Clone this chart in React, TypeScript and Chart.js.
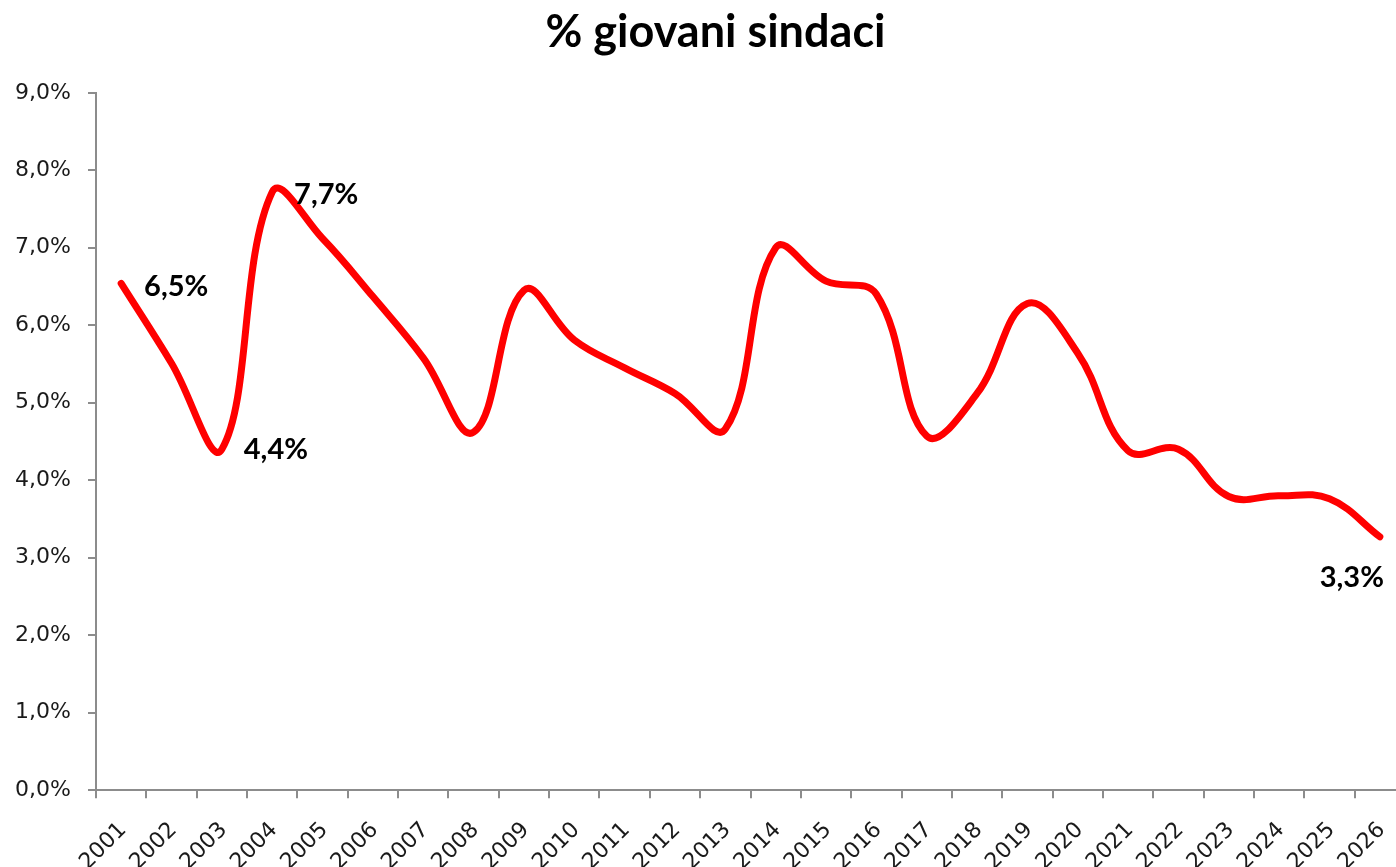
import React, { useEffect, useRef } from 'react';
import { Chart, registerables } from 'chart.js';

Chart.register(...registerables);

const chartTitle = '% giovani sindaci';

const years = [
  '2001', '2002', '2003', '2004', '2005', '2006', '2007', '2008', '2009',
  '2010', '2011', '2012', '2013', '2014', '2015', '2016', '2017', '2018',
  '2019', '2020', '2021', '2022', '2023', '2024', '2025', '2026',
];

const youngMayorsPct = [
  6.54, 5.51, 4.4, 7.72, 7.12, 6.37, 5.58, 4.62, 6.45,
  5.81, 5.45, 5.12, 4.66, 7.0, 6.57, 6.4, 4.57, 5.12,
  6.28, 5.64, 4.38, 4.4, 3.79, 3.8, 3.76, 3.27,
];

const labelledIndices = [0, 2, 3, 25];

const yMin = 0;
const yMax = 9;
const yStep = 1;

const fmt = (v: number) => v.toFixed(1).replace('.', ',') + '%';

const labelOffsets: Record<number, [number, number]> = {
  0: [55, 3],
  2: [54, 0],
  3: [54, 3],
  25: [-28, 41],
};

const pointLabelPlugin = {
  id: 'pointLabels',
  afterDatasetsDraw(chart: any) {
    const meta = chart.getDatasetMeta(0);
    const ctx = chart.ctx;
    ctx.save();
    ctx.font = 'bold 29px Lato';
    ctx.fillStyle = '#000000';
    ctx.textAlign = 'center';
    ctx.textBaseline = 'middle';
    labelledIndices.forEach((i) => {
      const el = meta.data[i];
      if (!el) return;
      const [dx, dy] = labelOffsets[i] || [0, 0];
      ctx.fillText(fmt(youngMayorsPct[i]), el.x + dx, el.y + dy);
    });
    ctx.restore();
  },
};

const titlePlugin = {
  id: 'excelTitle',
  afterDraw(chart: any) {
    const ctx = chart.ctx;
    ctx.save();
    ctx.font = 'bold 45px Lato';
    ctx.fillStyle = '#000000';
    ctx.textAlign = 'center';
    ctx.textBaseline = 'middle';
    ctx.fillText(chartTitle, 715.5, 32);
    ctx.restore();
  },
};

export default function App() {
  const canvasRef = useRef<HTMLCanvasElement | null>(null);

  useEffect(() => {
    const canvas = canvasRef.current;
    if (!canvas) return;
    const axisColor = '#8c8c8c';
    const chart = new Chart(canvas, {
      type: 'line',
      data: {
        labels: years,
        datasets: [
          {
            data: youngMayorsPct,
            borderColor: '#ff0000',
            backgroundColor: '#ff0000',
            borderWidth: 7,
            pointRadius: 0,
            pointHoverRadius: 0,
            tension: 0.4,
            fill: false,
            borderCapStyle: 'round',
            borderJoinStyle: 'round',
          },
        ],
      },
      options: {
        animation: false,
        responsive: false,
        devicePixelRatio: 1,
        layout: { padding: { left: 0, right: 0, top: 92.8, bottom: 0 } },
        plugins: {
          legend: { display: false },
          tooltip: { enabled: false },
          title: { display: false },
        },
        scales: {
          x: {
            type: 'category',
            offset: true,
            grid: {
              offset: true,
              drawOnChartArea: false,
              drawTicks: true,
              tickLength: 8,
              color: axisColor,
              lineWidth: 2,
            },
            border: { display: true, color: axisColor, width: 2 },
            ticks: {
              autoSkip: false,
              minRotation: 45,
              maxRotation: 45,
              padding: 19,
              labelOffset: 2,
              color: '#1a1a1a',
              font: { family: 'DejaVu Sans', size: 22 },
            },
            afterFit: (s: any) => {
              s.height = 76.8;
              s.paddingLeft = 0;
              s.paddingRight = 0;
            },
          },
          y: {
            min: yMin,
            max: yMax,
            ticks: {
              stepSize: yStep,
              padding: 17,
              color: '#1a1a1a',
              font: { family: 'DejaVu Sans', size: 22 },
              callback: (v: any) => fmt(Number(v)),
            },
            grid: {
              drawOnChartArea: false,
              drawTicks: true,
              tickLength: 8,
              color: axisColor,
              lineWidth: 2,
            },
            border: { display: true, color: axisColor, width: 2 },
            afterFit: (s: any) => {
              s.width = 96;
            },
          },
        },
      },
      plugins: [pointLabelPlugin, titlePlugin],
    } as any);
    return () => chart.destroy();
  }, []);

  return (
    <div
      style={{
        position: 'absolute',
        left: 0,
        top: 0,
        width: 1396,
        height: 867,
        overflow: 'hidden',
        background: '#ffffff',
      }}
    >
      <canvas ref={canvasRef} width={1405} height={867} style={{ display: 'block' }} />
    </div>
  );
}
